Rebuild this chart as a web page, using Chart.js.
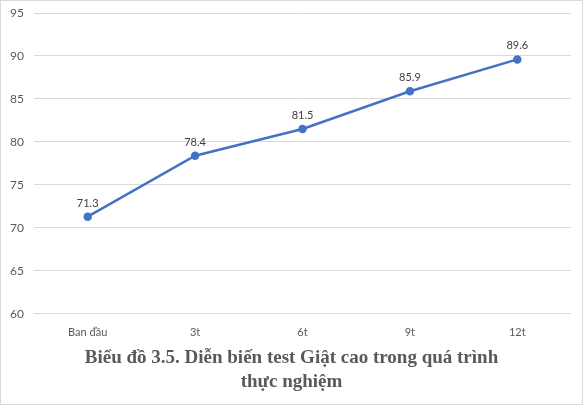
<!DOCTYPE html>
<html>
<head>
<meta charset="utf-8">
<script src="https://cdn.jsdelivr.net/npm/chart.js@4.4.1/dist/chart.umd.min.js"></script>
<style>
  html, body { margin: 0; padding: 0; background: #fff; }
  #box { width: 581px; height: 403px; border: 1px solid #d9d9d9; position: relative; }
  #title {
    position: absolute; left: 0; right: 0; top: 344px;
    text-align: center; color: #595959;
    font: bold 19px "Liberation Serif", serif; line-height: 24px;
  }
</style>
</head>
<body>
<div id="box">
  <canvas id="chart"></canvas>
  <div id="title"></div>
</div>
<script>
const categories = ["Ban đầu", "3t", "6t", "9t", "12t"];
const values = [71.3, 78.4, 81.5, 85.9, 89.6];
const yMin = 60, yMax = 95, yStep = 5;
const titleLines = ["Biểu đồ 3.5. Diễn biến test Giật cao trong quá trình", "thực nghiệm"];

document.getElementById("title").innerHTML = titleLines.join("<br>");

// draw the value above each point
const valueLabels = {
  id: "valueLabels",
  afterDatasetsDraw(chart) {
    const ctx = chart.ctx;
    const meta = chart.getDatasetMeta(0);
    ctx.save();
    ctx.font = "11px Lato";
    ctx.fillStyle = "#404040";
    ctx.textAlign = "center";
    ctx.textBaseline = "bottom";
    meta.data.forEach((pt, i) => {
      ctx.fillText(values[i].toFixed(1), pt.x, pt.y - 8);
    });
    ctx.restore();
  }
};

new Chart(document.getElementById("chart"), {
  type: "line",
  data: {
    labels: categories,
    datasets: [{
      data: values,
      borderColor: "#4472C4",
      backgroundColor: "#4472C4",
      borderWidth: 2.5,
      pointRadius: 3,
      pointHoverRadius: 3,
      tension: 0
    }]
  },
  options: {
    responsive: true,
    maintainAspectRatio: false,
    animation: false,
    layout: { padding: { top: 12, right: 11, bottom: 61, left: 0 } },
    plugins: {
      legend: { display: false },
      tooltip: { enabled: false },
      title: { display: false }
    },
    scales: {
      x: {
        offset: true,
        grid: { display: false },
        border: { display: false },
        ticks: { color: "#595959", font: { family: "Lato", size: 11 }, padding: 4 }
      },
      y: {
        min: yMin,
        max: yMax,
        ticks: { stepSize: yStep, color: "#595959", font: { family: "Lato", size: 12 }, padding: 10 },
        grid: { color: "#d9d9d9", drawTicks: false },
        border: { display: false },
        afterFit(scale) {
          scale.width = 33;
          scale.paddingTop = 0;
          scale.paddingBottom = 0;
        }
      }
    }
  },
  plugins: [valueLabels]
});
</script>
</body>
</html>
